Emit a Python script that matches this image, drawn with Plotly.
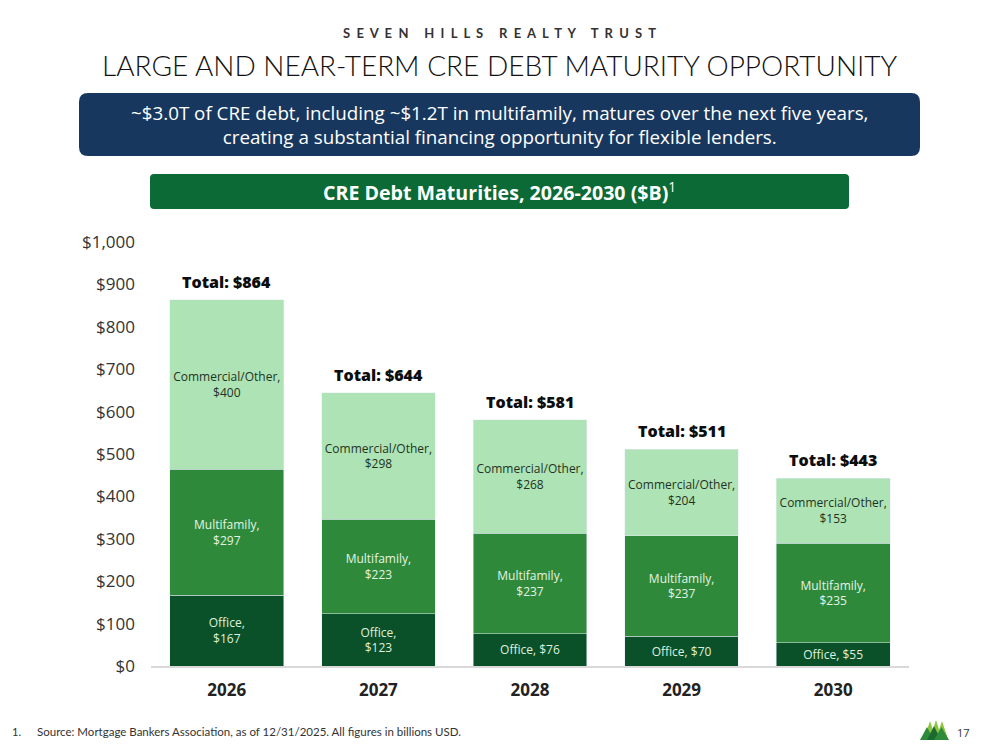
import plotly.graph_objects as go

years = ["2026", "2027", "2028", "2029", "2030"]
office = [167, 123, 76, 70, 55]
multifamily = [297, 223, 237, 237, 235]
commercial = [400, 298, 268, 204, 153]
totals = [864, 644, 581, 511, 443]
office_labels = ["Office,<br>$167", "Office,<br>$123", "Office, $76", "Office, $70", "Office, $55"]
multi_labels = ["Multifamily,<br>$%d" % v for v in multifamily]
comm_labels = ["Commercial/Other,<br>$%d" % v for v in commercial]
total_labels = ["Total: $%d" % v for v in totals]
y_ticks = [0, 100, 200, 300, 400, 500, 600, 700, 800, 900, 1000]

W, H = 999, 750
L, R, T, B = 151, 909, 242, 666
FONT = "Open Sans"
NB = "\u00a0"


def px(x):
    return (x - L) / (R - L)


def py(y):
    return (B - y) / (B - T)


fig = go.Figure()
fig.add_trace(go.Bar(x=years, y=office, name="Office", marker_color="#0a5129",
                     text=office_labels, textposition="inside", insidetextanchor="middle",
                     textangle=0, textfont=dict(color="#dff0df", size=12, family=FONT),
                     hoverinfo="skip"))
fig.add_trace(go.Bar(x=years, y=multifamily, name="Multifamily", marker_color="#2e8a3a",
                     text=multi_labels, textposition="inside", insidetextanchor="middle",
                     textangle=0, textfont=dict(color="#e4f3e4", size=12, family=FONT),
                     hoverinfo="skip"))
fig.add_trace(go.Bar(x=years, y=commercial, name="Commercial/Other", marker_color="#aee3b5",
                     text=comm_labels, textposition="inside", insidetextanchor="middle",
                     textangle=0, textfont=dict(color="#1f3322", size=12, family=FONT),
                     hoverinfo="skip"))

# total labels above each stack (category index positions)
for i, (tot, lab) in enumerate(zip(totals, total_labels)):
    fig.add_annotation(x=i, y=tot, xref="x", yref="y", text=lab, showarrow=False,
                       xanchor="center", yanchor="bottom", yshift=5,
                       font=dict(size=16, color="#0d0d0d", family=FONT, weight=800))


def rounded_rect(x0, y0, x1, y1, r):
    def P(x, y):
        return "%.5f,%.5f" % (px(x), py(y))
    return ("M " + P(x0 + r, y0) + " L " + P(x1 - r, y0) +
            " Q " + P(x1, y0) + " " + P(x1, y0 + r) +
            " L " + P(x1, y1 - r) +
            " Q " + P(x1, y1) + " " + P(x1 - r, y1) +
            " L " + P(x0 + r, y1) +
            " Q " + P(x0, y1) + " " + P(x0, y1 - r) +
            " L " + P(x0, y0 + r) +
            " Q " + P(x0, y0) + " " + P(x0 + r, y0) + " Z")


shapes = []
shapes.append(dict(type="path", xref="paper", yref="paper", path=rounded_rect(79, 93, 920, 156, 9),
                   fillcolor="#17375e", line=dict(width=0), layer="below"))
shapes.append(dict(type="path", xref="paper", yref="paper", path=rounded_rect(150, 174, 849, 209, 4),
                   fillcolor="#0b6a35", line=dict(width=0), layer="below"))


def tri(xl, xr, ytop, ybot, color):
    xm = (xl + xr) / 2
    p = "M %.5f,%.5f L %.5f,%.5f L %.5f,%.5f Z" % (px(xl), py(ybot), px(xm), py(ytop), px(xr), py(ybot))
    return dict(type="path", xref="paper", yref="paper", path=p, fillcolor=color, line=dict(width=0))


shapes.append(tri(924, 936, 721, 739, "#8cc63f"))
shapes.append(tri(930, 942, 720, 739, "#8cc63f"))
shapes.append(tri(936, 948, 721, 739, "#8cc63f"))
shapes.append(tri(920, 934, 727, 740, "#2e8b3a"))
shapes.append(tri(927, 941, 726, 740, "#1c6a30"))
shapes.append(tri(934, 949, 727, 740, "#2e8b3a"))
fig.update_layout(shapes=shapes)


def spaced(s):
    words = s.split(" ")
    return (NB * 5).join((NB * 2).join(list(w)) for w in words)


fig.add_annotation(xref="paper", yref="paper", x=px(499.5), y=py(33), xanchor="center", yanchor="middle",
                   text="<b>" + spaced("SEVEN HILLS REALTY TRUST") + "</b>", showarrow=False,
                   font=dict(size=13, color="#333333", family="Lato"))
fig.add_annotation(xref="paper", yref="paper", x=px(499.5), y=py(65), xanchor="center", yanchor="middle",
                   text="LARGE AND NEAR-TERM CRE DEBT MATURITY OPPORTUNITY", showarrow=False,
                   font=dict(size=28, color="#111111", family="Lato", weight=300))
fig.add_annotation(xref="paper", yref="paper", x=px(499.5), y=py(124.5), xanchor="center", yanchor="middle",
                   text="~$3.0T of CRE debt, including ~$1.2T in multifamily, matures over the next five years,<br>creating a substantial financing opportunity for flexible lenders.",
                   showarrow=False, align="center",
                   font=dict(size=18.8, color="#ffffff", family=FONT))
fig.add_annotation(xref="paper", yref="paper", x=px(499.5), y=py(191.5), xanchor="center", yanchor="middle",
                   text="<b>CRE Debt Maturities, 2026-2030 ($B)</b><sup>1</sup>", showarrow=False,
                   font=dict(size=19.6, color="#ffffff", family=FONT))
fig.add_annotation(xref="paper", yref="paper", x=px(10), y=py(731), xanchor="left", yanchor="middle",
                   text="1.", showarrow=False, font=dict(size=11, color="#333333", family="Lato"))
fig.add_annotation(xref="paper", yref="paper", x=px(35), y=py(731), xanchor="left", yanchor="middle",
                   text="Source: Mortgage Bankers Association, as of 12/31/2025. All figures in billions USD.",
                   showarrow=False, font=dict(size=11.5, color="#333333", family="Lato"))
fig.add_annotation(xref="paper", yref="paper", x=px(955), y=py(732), xanchor="left", yanchor="middle",
                   text="17", showarrow=False, font=dict(size=11, color="#333333", family=FONT))

fig.update_layout(
    width=W, height=H,
    margin=dict(l=L, r=W - R, t=T, b=H - B, pad=0),
    paper_bgcolor="white", plot_bgcolor="white",
    barmode="stack", bargap=0.25, showlegend=False,
    font=dict(family=FONT),
    xaxis=dict(type="category", range=[-0.5, 4.5], showline=True, linecolor="#d9d9d9", linewidth=1.5,
               ticks="", tickfont=dict(size=17, color="#222222", family=FONT, weight="bold"),
               ticklabelstandoff=8, fixedrange=True),
    yaxis=dict(range=[0, 1000], tickvals=y_ticks,
               ticktext=["${:,}".format(v) for v in y_ticks],
               showgrid=False, zeroline=False, showline=False,
               tickfont=dict(size=17, color="#333333", family=FONT),
               ticklabelstandoff=15, fixedrange=True),
)

fig.write_html("out.html")
